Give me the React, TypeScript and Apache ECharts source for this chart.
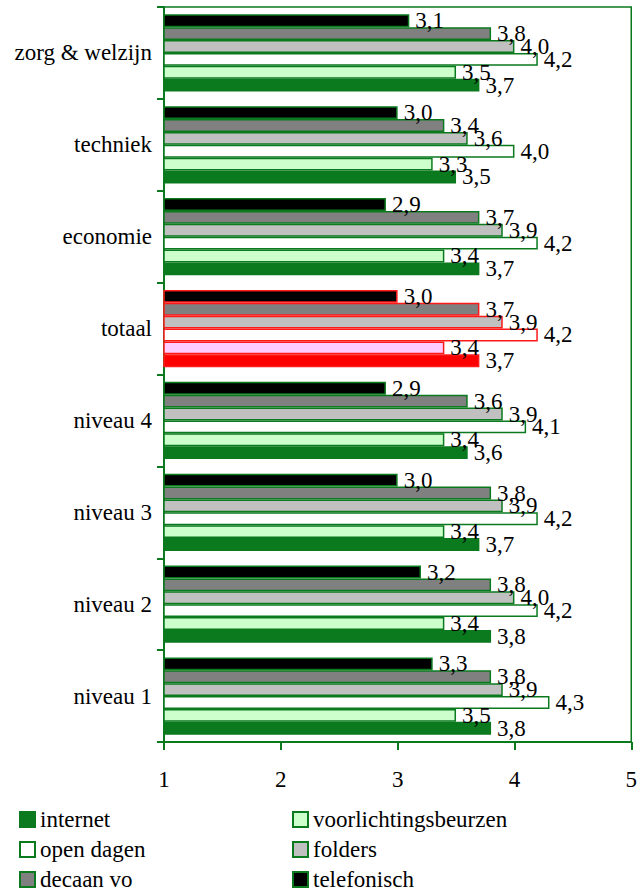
import React, { useEffect, useRef } from "react";
import * as echarts from "echarts";

const categories = ["zorg & welzijn", "techniek", "economie", "totaal", "niveau 4", "niveau 3", "niveau 2", "niveau 1"];
const telefonisch = [3.1, 3.0, 2.9, 3.0, 2.9, 3.0, 3.2, 3.3];
const decaanVo = [3.8, 3.4, 3.7, 3.7, 3.6, 3.8, 3.8, 3.8];
const folders = [4.0, 3.6, 3.9, 3.9, 3.9, 3.9, 4.0, 3.9];
const openDagen = [4.2, 4.0, 4.2, 4.2, 4.1, 4.2, 4.2, 4.3];
const voorlichtingsbeurzen = [3.5, 3.3, 3.4, 3.4, 3.4, 3.4, 3.4, 3.5];
const internet = [3.7, 3.5, 3.7, 3.7, 3.6, 3.7, 3.8, 3.8];
const xTicks = [1, 2, 3, 4, 5];

const GREEN = "#0b7a1f";
const RED = "#ff1a1a";
const FONT = "Liberation Serif";
const FS = 23;
const HIGHLIGHT = "totaal";

export default function App() {
  const ref = useRef<HTMLDivElement>(null);
  useEffect(() => {
    document.body.style.margin = "0";
    if (!ref.current) return;
    const chart = echarts.init(ref.current, undefined, { renderer: "svg" });

    const mk = (name: string, values: number[], fill: string, hiFill: string) => ({
      name,
      type: "bar",
      barGap: "0%",
      barCategoryGap: "16%",
      itemStyle: { color: fill, borderColor: GREEN, borderWidth: 1.5 },
      label: {
        show: true,
        position: "right",
        distance: 6,
        fontFamily: FONT,
        fontSize: FS,
        color: "#000",
        formatter: (p: any) => Number(p.value).toFixed(1).replace(".", ","),
      },
      data: values.map((v, i) =>
        categories[i] === HIGHLIGHT
          ? { value: v, itemStyle: { color: hiFill, borderColor: RED, borderWidth: 1.5 } }
          : v
      ),
    });

    const legendBase = {
      orient: "vertical",
      top: 808,
      height: 90,
      padding: 0,
      itemWidth: 15,
      itemHeight: 15,
      itemGap: 7,
      icon: "rect",
      textStyle: { fontFamily: FONT, fontSize: FS, color: "#000", lineHeight: 22 },
    };

    chart.setOption({
      animation: false,
      textStyle: { fontFamily: FONT, fontSize: FS, color: "#000" },
      grid: {
        left: 164,
        right: 7,
        top: 7,
        bottom: 150,
        show: true,
        borderColor: GREEN,
        borderWidth: 1.5,
        backgroundColor: "transparent",
      },
      legend: [
        { ...legendBase, left: 19, data: ["internet", "open dagen", "decaan vo"] },
        { ...legendBase, left: 292, data: ["voorlichtingsbeurzen", "folders", "telefonisch"] },
      ],
      xAxis: {
        type: "value",
        min: xTicks[0],
        max: xTicks[xTicks.length - 1],
        interval: 1,
        splitLine: { show: false },
        axisLine: { show: true, lineStyle: { color: GREEN, width: 2 } },
        axisTick: { show: true, length: 8, lineStyle: { color: GREEN, width: 2 } },
        axisLabel: { margin: 26, fontFamily: FONT, fontSize: FS, color: "#000" },
      },
      yAxis: {
        type: "category",
        inverse: true,
        data: categories,
        axisLine: { show: true, lineStyle: { color: GREEN, width: 2 } },
        axisTick: { show: true, length: 7, lineStyle: { color: GREEN, width: 2 } },
        axisLabel: { margin: 12, fontFamily: FONT, fontSize: FS, color: "#000" },
      },
      series: [
        mk("telefonisch", telefonisch, "#000000", "#000000"),
        mk("decaan vo", decaanVo, "#808080", "#808080"),
        mk("folders", folders, "#c0c0c0", "#c0c0c0"),
        mk("open dagen", openDagen, "#ffffff", "#ffffff"),
        mk("voorlichtingsbeurzen", voorlichtingsbeurzen, "#ccffcc", "#ffccff"),
        mk("internet", internet, GREEN, "#ff0000"),
      ],
    });
    return () => chart.dispose();
  }, []);
  return <div ref={ref} style={{ width: 640, height: 892 }} />;
}
